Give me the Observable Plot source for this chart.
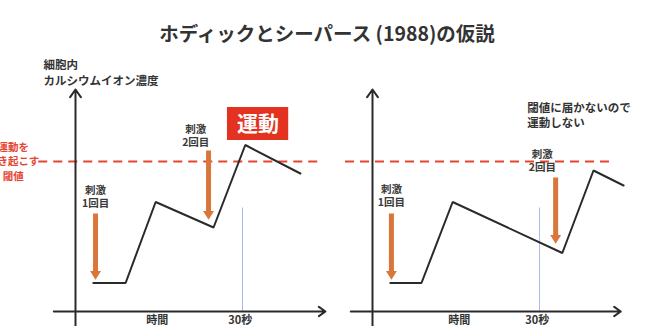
<!DOCTYPE html>
<html>
<head>
<meta charset="utf-8">
<script src="https://cdn.jsdelivr.net/npm/d3@7"></script>
<script src="https://cdn.jsdelivr.net/npm/@observablehq/plot@0.6"></script>
<style>
  html, body { margin: 0; padding: 0; background: #fff; }
  #wrap { position: relative; width: 654px; height: 326px; overflow: hidden; background: #fff;
          font-family: "Noto Sans CJK JP", "Noto Sans", sans-serif; }
  #title { position: absolute; left: 0; top: 20px; width: 654px; text-align: center;
           font-size: 19.5px; font-weight: bold; color: #333; line-height: 26px; }
  .panel { position: absolute; top: 0; }
</style>
</head>
<body>
<div id="wrap">
  <div id="title">ホディックとシーパース (1988)の仮説</div>
</div>
<script>
// ---- data (time in seconds, concentration in arbitrary units; threshold = 10) ----
const threshold = 10;
const leftTime = [3.2, 9.0, 14.4, 24.8, 30.5, 40.4];
const leftConc = [1.9, 1.9, 7.3, 5.6, 11.1, 9.2];
const rightTime = [3.2, 8.8, 14.4, 34.1, 39.7, 45.1];
const rightConc = [1.9, 1.9, 7.3, 3.9, 9.4, 8.4];

const leftStimTime = [3.6, 23.9];
const leftStimTop = [6.5, 10.7];
const leftStimTip = [2.1, 6.1];
const leftStimLabelTime = [3.6, 21.6];
const leftStimLabelConc = [7.7, 11.75];

const rightStimTime = [3.4, 32.9];
const rightStimTop = [6.5, 8.9];
const rightStimTip = [2.1, 4.5];
const rightStimLabelTime = [3.4, 30.5];
const rightStimLabelConc = [7.75, 10.1];

const stimLabels = ["刺激\n1回目", "刺激\n2回目"];
const markTime = 30;
const markTop = 6.9;
const xAxisLabel = "時間";
const markLabel = "30秒";
const yAxisLabel = "細胞内\nカルシウムイオン濃度";
const thresholdLabel = "運動を\n引き起こす\n閾値";
const motionLabel = "運動";
const noMotionLabel = "閾値に届かないので\n運動しない";

// ---- layout helpers ----
const k = 167 / 30;          // px per second
const x0 = 75;               // px of t = 0 inside each panel
const xDomain = [-12, 48];
const xRange = [x0 + xDomain[0] * k, x0 + xDomain[1] * k];
const yDomain = [0, 15];
const yRange = [311, 86];

const RED = "#e5442f";
const ORANGE = "#d9773a";
const INK = "#2a2a2a";
const FONT = "Noto Sans CJK JP";

const triangleDown = {
  draw(ctx, size) {
    const r = Math.sqrt(size / Math.PI);
    ctx.moveTo(0, r * 1.2);
    ctx.lineTo(-r * 1.3, -r * 0.9);
    ctx.lineTo(r * 1.3, -r * 0.9);
    ctx.closePath();
  }
};

function panel(cfg) {
  const curve = cfg.time.map((t, i) => ({t, c: cfg.conc[i]}));
  const stim = cfg.stimTime.map((t, i) => ({t, top: cfg.stimTop[i], tip: cfg.stimTip[i],
    lt: cfg.labelTime[i], lc: cfg.labelConc[i], label: stimLabels[i]}));
  const marks = [
    Plot.ruleY([threshold], {x1: cfg.dashFrom, x2: cfg.dashTo, stroke: RED, strokeWidth: 2, strokeDasharray: "9,6"}),
    Plot.ruleX([markTime], {y1: 0, y2: markTop, stroke: "#a9bbe6", strokeWidth: 1}),
    Plot.arrow([0], {x1: 0, x2: 0, y1: -1.2, y2: 14.8, stroke: INK, strokeWidth: 2, headLength: 7, headAngle: 70}),
    Plot.arrow([0], {x1: -3.9, x2: cfg.axisEnd, y1: 0, y2: 0, stroke: INK, strokeWidth: 2, headLength: 6, headAngle: 70}),
    Plot.text([xAxisLabel], {x: cfg.timeLabelAt, y: -0.6, text: d => d, fontSize: 11, fontWeight: "bold", fill: "#333"}),
    Plot.text([markLabel], {x: 29.6, y: -0.6, text: d => d, fontSize: 11, fontWeight: "bold", fill: "#333"}),
    Plot.line(curve, {x: "t", y: "c", stroke: INK, strokeWidth: 2, strokeLinejoin: "miter"}),
    Plot.ruleX(stim, {x: "t", y1: "top", y2: d => d.tip + 0.5, stroke: ORANGE, strokeWidth: 5}),
    Plot.dot(stim, {x: "t", y: d => d.tip + 0.35, symbol: triangleDown, r: 4.2, fill: ORANGE, stroke: "none"}),
    Plot.text(stim, {x: "lt", y: "lc", text: "label", fontSize: 10.5, fontWeight: "bold", fill: "#3a3a3a", lineHeight: 1.3})
  ];
  return Plot.plot({
    width: 345, height: 326, margin: 0,
    x: {domain: xDomain, range: xRange, axis: null},
    y: {domain: yDomain, range: yRange, axis: null},
    style: {background: "transparent", overflow: "visible", fontFamily: FONT},
    marks: marks.concat(cfg.extra)
  });
}

const left = panel({
  time: leftTime, conc: leftConc,
  stimTime: leftStimTime, stimTop: leftStimTop, stimTip: leftStimTip,
  labelTime: leftStimLabelTime, labelConc: leftStimLabelConc,
  dashFrom: -6.6, dashTo: 43.7, axisEnd: 44.9, timeLabelAt: 14.7,
  extra: [
    Plot.text([yAxisLabel], {x: -5.75, y: 16.0, text: d => d, textAnchor: "start", fontSize: 11.5, fontWeight: "bold", fill: "#333", lineHeight: 1.4}),
    Plot.text([thresholdLabel], {x: -11.2, y: 10.05, text: d => d, fontSize: 10.5, fontWeight: "bold", fill: RED, lineHeight: 1.38}),
    Plot.rect([motionLabel], {x1: 27.3, x2: 38.3, y1: 11.4, y2: 13.6, fill: "#e3321f"}),
    Plot.text([motionLabel], {x: 32.8, y: 12.5, text: d => d, fontSize: 21, fontWeight: "bold", fill: "#fff"})
  ]
});

const right = panel({
  time: rightTime, conc: rightConc,
  stimTime: rightStimTime, stimTop: rightStimTop, stimTip: rightStimTip,
  labelTime: rightStimLabelTime, labelConc: rightStimLabelConc,
  dashFrom: -4.85, dashTo: 43.3, axisEnd: 44.6, timeLabelAt: 15.6,
  extra: [
    Plot.text([noMotionLabel], {x: 27.8, y: 13.1, text: d => d, textAnchor: "start", fontSize: 11.5, fontWeight: "bold", fill: "#333", lineHeight: 1.3})
  ]
});

left.classList.add("panel");
right.classList.add("panel");
left.style.left = "0px";
right.style.left = "297px";
document.getElementById("wrap").appendChild(left);
document.getElementById("wrap").appendChild(right);
</script>
</body>
</html>
